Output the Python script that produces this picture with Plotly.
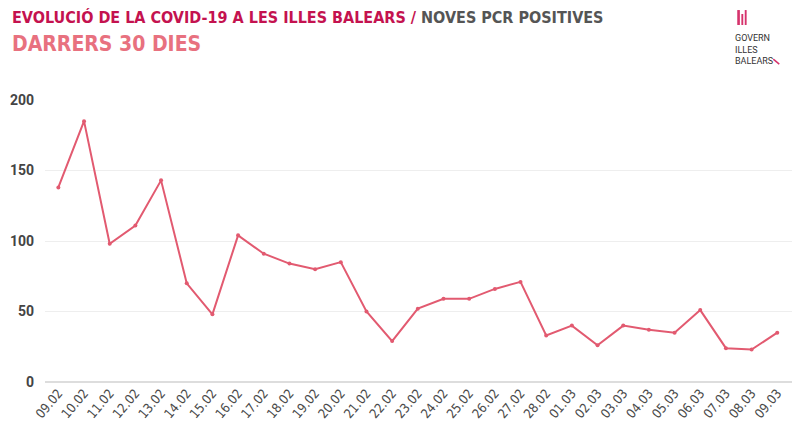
import plotly.graph_objects as go

dies = ['09.02', '10.02', '11.02', '12.02', '13.02', '14.02', '15.02', '16.02', '17.02', '18.02',
        '19.02', '20.02', '21.02', '22.02', '23.02', '24.02', '25.02', '26.02', '27.02', '28.02',
        '01.03', '02.03', '03.03', '04.03', '05.03', '06.03', '07.03', '08.03', '09.03']
pcr_positives = [138, 185, 98, 111, 143, 70, 48, 104, 91, 84,
                 80, 85, 50, 29, 52, 59, 59, 66, 71, 33,
                 40, 26, 40, 37, 35, 51, 24, 23, 35]
y_ticks = [0, 50, 100, 150, 200]

cond = "Liberation Sans Narrow, DejaVu Sans Condensed, Roboto, sans-serif"
line_col = '#e25a70'
logo_col = '#d6336c'

fig = go.Figure(go.Scatter(
    x=dies, y=pcr_positives,
    mode='lines+markers',
    line=dict(color=line_col, width=2),
    marker=dict(color=line_col, size=4),
    hoverinfo='x+y',
))

fig.update_layout(
    width=800, height=441,
    margin=dict(l=37, r=13, t=92, b=67),
    paper_bgcolor='white', plot_bgcolor='white',
    showlegend=False,
    xaxis=dict(
        type='category', range=[-0.52, 28.69], automargin=False,
        tickangle=-50, showgrid=False, showline=False, ticks='',
        tickfont=dict(family=cond, size=13, color='#4a4a4a'),
    ),
    yaxis=dict(
        range=[0, 200], tickvals=y_ticks, showline=False, ticks='', automargin=False,
        gridcolor='#eeeeee', gridwidth=1,
        zeroline=True, zerolinecolor='#dddddd', zerolinewidth=2,
        tickfont=dict(family="Roboto, sans-serif", size=14, color='#444444', weight='bold'),
        ticklabelstandoff=10,
    ),
    annotations=[
        dict(x=-0.047, y=1.294, xref='paper', yref='paper', xanchor='left', yanchor='middle',
             showarrow=False,
             text="<b><span style='color:#c4124f'>EVOLUCIÓ DE LA COVID-19 A LES ILLES BALEARS /</span>"
                  " <span style='color:#555555'>NOVES PCR POSITIVES</span></b>",
             font=dict(family=cond, size=16)),
        dict(x=-0.047, y=1.197, xref='paper', yref='paper', xanchor='left', yanchor='middle',
             showarrow=False, text="<b>DARRERS 30 DIES</b>",
             font=dict(family=cond, size=21, color='#e8717f')),
        dict(x=0.917, y=1.178, xref='paper', yref='paper', xanchor='left', yanchor='middle',
             showarrow=False, align='left',
             text="GOVERN<br>ILLES<br>BALEARS",
             font=dict(family="Roboto, sans-serif", size=9, color='#333333')),
    ],
    shapes=[
        dict(type='rect', xref='paper', yref='paper', x0=0.923, x1=0.9265, y0=1.266, y1=1.319,
             fillcolor=logo_col, line=dict(width=0)),
        dict(type='rect', xref='paper', yref='paper', x0=0.9285, x1=0.931, y0=1.266, y1=1.305,
             fillcolor=logo_col, line=dict(width=0)),
        dict(type='rect', xref='paper', yref='paper', x0=0.933, x1=0.9355, y0=1.266, y1=1.319,
             fillcolor=logo_col, line=dict(width=0)),
        dict(type='line', xref='paper', yref='paper', x0=0.971, x1=0.979, y0=1.145, y1=1.127,
             line=dict(color=logo_col, width=1.5)),
    ],
)

fig.write_html("out.html")
